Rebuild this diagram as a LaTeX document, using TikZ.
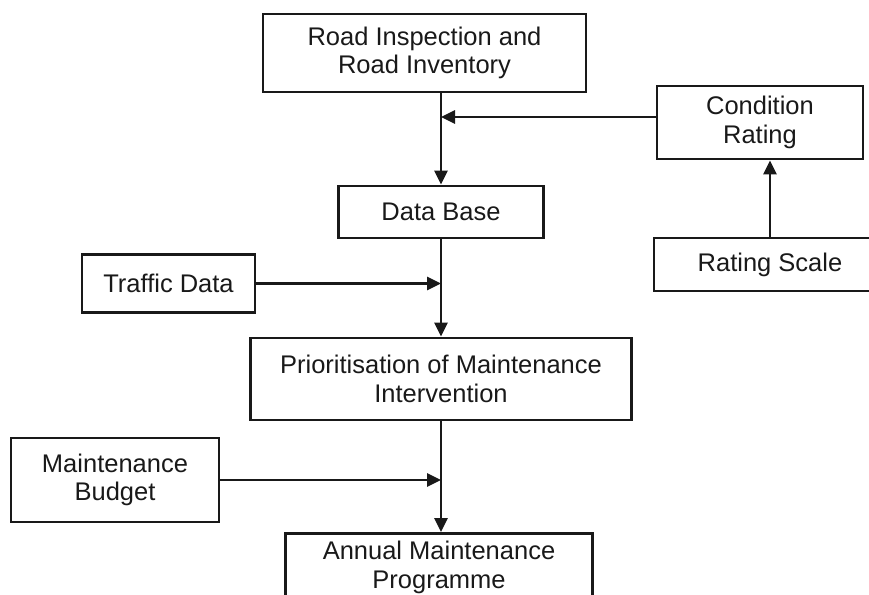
\documentclass[tikz,border=0pt]{standalone}
\usepackage{fontspec}
\setmainfont{Liberation Sans}
\usetikzlibrary{arrows.meta}
\begin{document}
\begin{tikzpicture}[x=1pt,y=-1pt,
  box/.style={draw=black!90, line width=2.8pt, align=center, inner sep=0pt,
    font=\fontsize{25.5}{28.5}\selectfont, text=black!90},
  conn/.style={line width=2.8pt, draw=black!90},
  arr/.style={conn, -{Triangle[length=14pt,width=13pt]}}]
\useasboundingbox (0,0) rectangle (869,594);
\clip (0,0) rectangle (869,594);
\node[box, minimum width=323pt, minimum height=78pt] (road) at (424.5,53) {Road Inspection and\\Road Inventory};
\node[box, minimum width=206pt, minimum height=73pt] (cond) at (760,122.5) {Condition\\Rating};
\node[box, minimum width=205pt, minimum height=52pt] (db) at (441,212) {Data Base};
\node[box, minimum width=232pt, minimum height=53pt] (rate) at (770,264.5) {Rating Scale};
\node[box, minimum width=173pt, minimum height=58pt] (traffic) at (168.5,283.5) {Traffic Data};
\node[box, minimum width=381pt, minimum height=82pt] (prior) at (441,379) {Prioritisation of Maintenance\\Intervention};
\node[box, minimum width=208pt, minimum height=84pt] (budget) at (115,480) {Maintenance\\Budget};
\node[box, minimum width=307pt, minimum height=90pt, anchor=north] (annual) at (439,532) {};
\node[font=\fontsize{25.5}{29}\selectfont, text=black!90, align=center, inner sep=0pt] (annualtext) at (439,567.5) {Annual Maintenance\\Programme};
\coordinate (j1) at (441,117);
\coordinate (j2) at (441,283.5);
\coordinate (j3) at (441,480);
\draw[arr] (db.north |- road.south) -- (db.north);
\draw[arr] (cond.west |- j1) -- (j1);
\draw[arr] (db.south) -- (prior.north);
\draw[arr] (traffic.east) -- (j2);
\draw[arr] (prior.south) -- (prior.south |- annual.north);
\draw[arr] (budget.east) -- (j3);
\draw[arr] (rate.north) -- (rate.north |- cond.south);
\end{tikzpicture}
\end{document}
